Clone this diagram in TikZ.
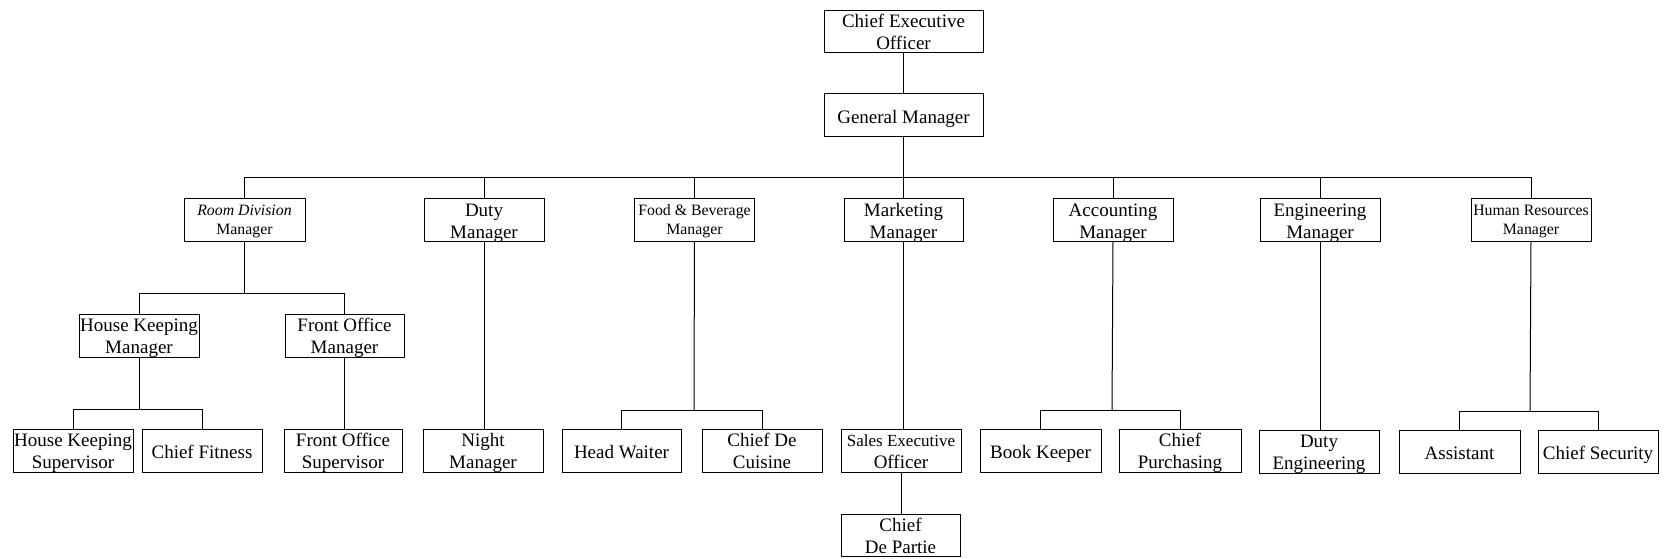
\documentclass[tikz,border=0pt]{standalone}
\usepackage{fontspec}
\setmainfont{Liberation Serif}
\usetikzlibrary{calc}
\newcommand\twol[2]{\strut #1\\\strut #2}
\tikzset{
  ob/.style={draw=black, line width=1pt, minimum width=120pt, minimum height=43pt, inner sep=0pt, outer sep=0pt},
  ln/.style={draw=black, line width=1pt},
  tx/.style={font=\fontsize{19}{22}\selectfont, align=center, inner sep=0pt, anchor=north},
  txs/.style={font=\fontsize{15.8}{19}\selectfont, align=center, inner sep=0pt, anchor=north},
  tx1/.style={font=\fontsize{19}{22}\selectfont, inner sep=0pt, anchor=base},
}
\begin{document}
\begin{tikzpicture}[x=1pt,y=-1pt]
\useasboundingbox[fill=white] (0,0) rectangle (1666,558);

% level 0/1
\node[ob, minimum width=159pt, minimum height=42pt] (ceo) at (903.5,31) {};
\node[tx] (ceo-t) at ($(ceo.north)+(0,2)$) {\twol{Chief Executive}{Officer}};
\node[ob, minimum width=159pt] (gm) at (903.5,114.5) {};
\node[tx1] (gm-t) at ($(gm.north)+(0,30.5)$) {General Manager};

% level 2
\node[ob, minimum width=121pt] (rd) at (244.5,219.5) {};
\node[txs] (rd-t) at ($(rd.north)+(0,3.7)$) {\twol{\itshape Room Division}{Manager}};
\node[ob] (dm) at (484,219.5) {};
\node[tx] (dm-t) at ($(dm.north)+(0,2.5)$) {\twol{Duty}{Manager}};
\node[ob] (fb) at (694.5,219.5) {};
\node[txs] (fb-t) at ($(fb.north)+(0,3.7)$) {\twol{Food \& Beverage}{Manager}};
\node[ob, minimum width=119pt] (mm) at (903.5,220) {};
\node[tx] (mm-t) at ($(mm.north)+(0,2.5)$) {\twol{Marketing}{Manager}};
\node[ob] (am) at (1113,219.5) {};
\node[tx] (am-t) at ($(am.north)+(0,2.5)$) {\twol{Accounting}{Manager}};
\node[ob] (em) at (1320,220) {};
\node[tx] (em-t) at ($(em.north)+(0,2.5)$) {\twol{Engineering}{Manager}};
\node[ob] (hr) at (1531,220) {};
\node[txs] (hr-t) at ($(hr.north)+(0,3.7)$) {\twol{Human Resources}{Manager}};

% level 3
\node[ob] (hkm) at (139,335.5) {};
\node[tx] (hkm-t) at ($(hkm.north)+(0,2)$) {\twol{House Keeping}{Manager}};
\node[ob, minimum width=119pt] (fom) at (344.5,335.5) {};
\node[tx] (fom-t) at ($(fom.north)+(0,2)$) {\twol{Front Office}{Manager}};

% level 4
\node[ob] (hks) at (73,450.5) {};
\node[tx] (hks-t) at ($(hks.north)+(0,1.5)$) {\twol{House Keeping}{Supervisor}};
\node[ob] (cf) at (202,450.5) {};
\node[tx1] (cf-t) at ($(cf.north)+(0,29)$) {Chief Fitness};
\node[ob, minimum width=118pt] (fos) at (343,450.5) {};
\node[tx] (fos-t) at ($(fos.north)+(0,1.5)$) {\twol{Front Office}{Supervisor}};
\node[ob] (nm) at (483,450.5) {};
\node[tx] (nm-t) at ($(nm.north)+(0,1.5)$) {\twol{Night}{Manager}};
\node[ob, minimum width=119pt] (hw) at (621.5,450.5) {};
\node[tx1] (hw-t) at ($(hw.north)+(0,29)$) {Head Waiter};
\node[ob] (cdc) at (762,450.5) {};
\node[tx] (cdc-t) at ($(cdc.north)+(0,1.5)$) {\twol{Chief De}{Cuisine}};
\node[ob] (seo) at (901,451) {};
\node[tx] (seo-t) at ($(seo.north)+(0,1.5)$) {\twol{\fontsize{17}{22}\selectfont Sales Executive}{Officer}};
\node[ob, minimum width=121pt] (bk) at (1040.5,451) {};
\node[tx1] (bk-t) at ($(bk.north)+(0,29)$) {Book Keeper};
\node[ob, minimum width=122pt] (cp) at (1180,451) {};
\node[tx] (cp-t) at ($(cp.north)+(0,1.5)$) {\twol{Chief}{Purchasing}};
\node[ob] (de) at (1319,451.5) {};
\node[tx] (de-t) at ($(de.north)+(0,1.5)$) {\twol{Duty}{Engineering}};
\node[ob, minimum width=121pt] (as) at (1459.5,452) {};
\node[tx1] (as-t) at ($(as.north)+(0,29)$) {Assistant};
\node[ob] (cs) at (1598,452) {};
\node[tx1] (cs-t) at ($(cs.north)+(0,29)$) {Chief Security};

% level 5
\node[ob, minimum width=119pt, minimum height=42pt] (cdp) at (900.5,535) {};
\node[tx] (cdp-t) at ($(cdp.north)+(0,1.5)$) {\twol{Chief}{De Partie}};

% junction points
\coordinate (bus) at (903.5,177);
\coordinate (rdb) at (244.5,293);
\coordinate (hkb) at (139,409.5);
\coordinate (fbb) at (694,410);
\coordinate (amb) at (1112,410.5);
\coordinate (hrb) at (1530,411.5);

% connectors
\draw[ln] (ceo) -- (gm);
\draw[ln] (gm) -- (bus);
\foreach \n in {rd,dm,fb,mm,am,em,hr} \draw[ln] (bus) -| (\n);

\draw[ln] (rd) -- (rdb);
\draw[ln] (rdb) -| (hkm);
\draw[ln] (rdb) -| (fom);
\draw[ln] (hkm) -- (hkb);
\draw[ln] (hkb) -| (hks);
\draw[ln] (hkb) -| (cf);
\draw[ln] (fom.south) -- (fom.south |- fos.north);

\draw[ln] (dm.south) -- (dm.south |- nm.north);

\draw[ln] (fb) -- (fbb);
\draw[ln] (fbb) -| (hw);
\draw[ln] (fbb) -| (cdc);

\draw[ln] (mm.south) -- (mm.south |- seo.north);
\draw[ln] (seo.south) -- (seo.south |- cdp.north);

\draw[ln] (am.south) -- (amb);
\draw[ln] (amb) -| (bk);
\draw[ln] (amb) -| (cp);

\draw[ln] (em.south) -- (em.south |- de.north);

\draw[ln] (hr.south) -- (hrb);
\draw[ln] (hrb) -| (as);
\draw[ln] (hrb) -| (cs);
\end{tikzpicture}
\end{document}
